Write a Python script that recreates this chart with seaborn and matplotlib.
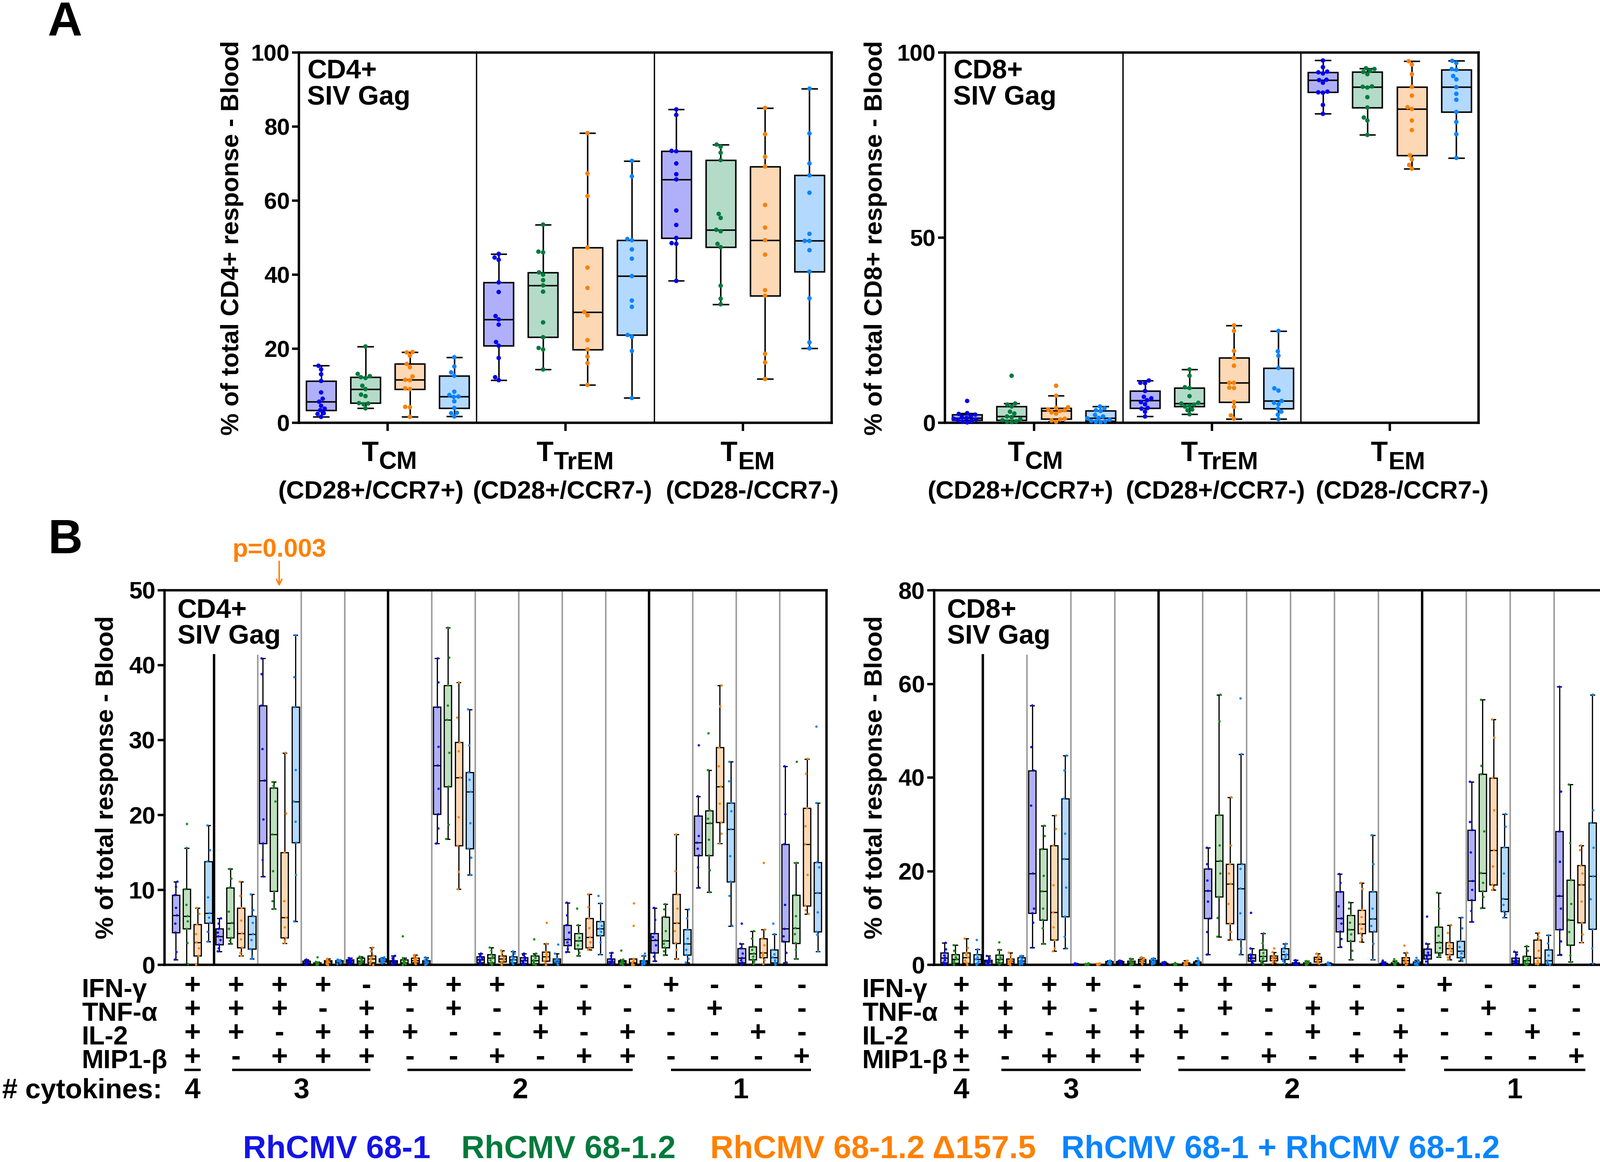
import numpy as np
import pandas as pd
import matplotlib
matplotlib.use("Agg")
import matplotlib.pyplot as plt
import matplotlib.transforms as mtransforms
import seaborn as sns

W, H, DPI = 3715, 2699, 250

groups = ["RhCMV 68-1", "RhCMV 68-1.2", "RhCMV 68-1.2 \u0394157.5", "RhCMV 68-1 + RhCMV 68-1.2"]
subsets = ["TCM", "TTrEM", "TEM"]
subset_subs = ["CM", "TrEM", "EM"]
subset_markers = ["(CD28+/CCR7+)", "(CD28+/CCR7-)", "(CD28-/CCR7-)"]

# cytokine combinations (15), read column by column
ifng = "++++-+++---+---"
tnfa = "+++-+-+-++--+--"
il2 = "++-+++--+-+--+-"
mip1b = "+-+++--+-++---+"
combos = [a + b + c + d for a, b, c, d in zip(ifng, tnfa, il2, mip1b)]
n_cytokines = ["4", "3", "2", "1"]

# ---------------- panel A : memory subsets (13 animals per group) ----------------
cd4_mem_68_1 = [[1.6, 2.4, 2.6, 3.4, 3.8, 4.6, 5.7, 6.5, 8.2, 11.3, 13.1, 14.4, 15.4],
                [11.5, 12.3, 17.5, 20.8, 21.8, 26.5, 27.9, 28.8, 35.3, 37.9, 44.0, 44.6, 45.6],
                [38.3, 48.3, 48.5, 49.9, 53.4, 57.3, 65.7, 67.1, 70.0, 73.3, 73.4, 83.1, 84.6]]
cd4_mem_68_12 = [[3.9, 5.0, 5.2, 5.3, 7.2, 7.6, 9.1, 10.0, 12.1, 12.3, 12.6, 13.2, 20.6],
                 [14.4, 19.8, 20.2, 23.1, 27.1, 35.4, 37.1, 38.5, 40.0, 40.6, 46.0, 46.2, 53.5],
                 [32.0, 33.5, 37.0, 47.4, 48.3, 51.7, 52.1, 55.3, 56.4, 70.9, 72.9, 74.5, 75.1]]
cd4_mem_d157 = [[1.6, 4.2, 4.3, 9.1, 9.3, 11.5, 11.6, 12.5, 15.0, 15.9, 18.1, 19.0, 19.1],
                [10.2, 16.1, 17.9, 19.8, 22.3, 29.0, 29.9, 36.4, 41.9, 47.3, 61.2, 67.3, 78.2],
                [11.8, 16.3, 18.6, 34.3, 35.8, 45.4, 49.3, 52.7, 58.8, 69.2, 71.8, 77.9, 85.0]]
cd4_mem_mix = [[1.7, 2.6, 2.7, 4.0, 5.8, 7.0, 7.1, 7.5, 8.4, 12.7, 13.6, 15.2, 17.7],
               [6.7, 19.4, 23.2, 23.7, 31.3, 33.0, 39.6, 44.3, 46.8, 49.3, 49.6, 66.5, 70.7],
               [20.1, 21.7, 33.6, 40.8, 46.6, 49.1, 49.1, 51.0, 62.1, 66.8, 70.0, 78.1, 90.2]]

cd8_mem_68_1 = [[0.1, 0.3, 0.5, 0.7, 0.9, 1.1, 1.3, 1.5, 1.8, 2.2, 2.4, 2.6, 5.9],
                [1.7, 3.0, 3.8, 4.0, 5.0, 5.6, 6.1, 6.6, 7.0, 8.6, 10.7, 10.8, 11.4],
                [83.4, 85.8, 89.1, 89.2, 89.4, 91.8, 92.5, 92.6, 94.3, 94.6, 94.8, 96.0, 97.8]]
cd8_mem_68_12 = [[0.2, 0.3, 0.4, 0.7, 1.0, 1.5, 1.7, 2.5, 3.0, 4.4, 4.9, 5.2, 12.7],
                 [2.3, 3.4, 3.6, 4.4, 4.6, 4.9, 5.2, 5.4, 7.2, 9.4, 9.6, 12.7, 14.4],
                 [77.7, 81.6, 82.4, 85.1, 87.9, 90.5, 90.7, 90.8, 94.1, 94.7, 95.1, 95.5, 95.7]]
cd8_mem_d157 = [[0.3, 0.6, 0.9, 1.1, 2.5, 2.8, 3.2, 3.4, 3.6, 4.0, 4.2, 7.3, 10.0],
                [1.1, 2.0, 4.3, 5.6, 9.4, 9.5, 10.8, 10.8, 15.4, 17.5, 19.4, 24.8, 26.3],
                [68.6, 69.6, 71.1, 72.2, 79.0, 81.6, 84.7, 85.2, 88.3, 90.7, 94.1, 96.7, 97.6]]
cd8_mem_mix = [[0.2, 0.3, 0.4, 0.5, 0.8, 1.2, 1.3, 1.7, 2.1, 3.2, 3.4, 3.9, 4.4],
               [1.0, 2.2, 3.0, 3.8, 5.0, 5.4, 5.9, 8.7, 9.3, 14.8, 18.1, 19.3, 24.8],
               [71.5, 77.9, 81.2, 83.9, 87.2, 88.8, 90.6, 92.7, 93.6, 95.3, 95.5, 97.1, 97.7]]

# ---------------- panel B : cytokine combinations (15 combos) ----------------
cd4_cyt_68_1 = [[0.7, 1.7, 4.3, 5.5, 6.6, 7.6, 9.3, 10.4, 11.1], [1.8, 2.2, 2.7, 3.3, 3.8, 4.3, 4.8, 5.5, 6.2],
                [11.8, 14.0, 16.2, 19.4, 24.6, 28.8, 34.6, 38.8, 40.9], [0.0, 0.1, 0.2, 0.3, 0.3, 0.4, 0.5, 0.6, 0.7],
                [0.1, 0.2, 0.3, 0.4, 0.5, 0.6, 0.7, 0.8, 0.9], [0.0, 0.1, 0.2, 0.3, 0.4, 0.5, 0.6, 0.9, 1.2],
                [16.2, 18.2, 20.1, 23.5, 26.6, 29.1, 34.4, 37.7, 40.9], [0.1, 0.2, 0.3, 0.5, 0.7, 0.9, 1.1, 1.3, 1.5],
                [0.0, 0.1, 0.2, 0.4, 0.6, 0.8, 1.0, 1.3, 1.5], [1.7, 2.1, 2.6, 3.0, 3.4, 4.3, 5.3, 6.6, 8.3],
                [0.0, 0.1, 0.2, 0.3, 0.4, 0.6, 0.8, 1.2, 1.6], [0.5, 1.1, 1.6, 2.6, 3.3, 3.7, 4.2, 6.0, 7.6],
                [10.3, 13.0, 14.6, 15.5, 16.3, 17.2, 19.9, 22.5, 29.3], [0.0, 0.2, 0.3, 0.6, 0.9, 1.5, 2.2, 2.8, 5.5],
                [0.3, 1.6, 3.1, 3.8, 4.8, 8.0, 16.1, 20.1, 26.5]]
cd4_cyt_68_12 = [[0.1, 2.9, 4.8, 5.8, 6.5, 8.0, 10.1, 15.6, 18.8], [2.8, 3.2, 3.6, 4.8, 5.6, 7.1, 10.3, 11.5, 12.8],
                 [7.5, 8.5, 9.8, 12.5, 17.4, 21.8, 23.6, 23.9, 24.4], [0.0, 0.0, 0.1, 0.1, 0.2, 0.2, 0.3, 0.4, 1.0],
                 [0.1, 0.2, 0.3, 0.4, 0.5, 0.7, 0.9, 1.0, 1.1], [0.0, 0.1, 0.2, 0.2, 0.3, 0.5, 0.7, 0.9, 3.8],
                 [16.8, 18.7, 23.8, 28.3, 32.7, 34.6, 37.3, 41.0, 45.0], [0.0, 0.2, 0.3, 0.6, 0.9, 1.1, 1.4, 1.9, 2.3],
                 [0.0, 0.1, 0.2, 0.4, 0.6, 0.9, 1.2, 1.5, 3.4], [1.2, 1.6, 2.1, 2.6, 3.2, 3.6, 4.2, 5.3, 7.5],
                 [0.0, 0.1, 0.2, 0.3, 0.4, 0.5, 0.6, 0.7, 1.9], [1.3, 1.8, 2.3, 2.8, 3.2, 4.5, 6.4, 7.4, 8.1],
                 [9.7, 12.6, 14.6, 16.7, 18.9, 19.5, 20.6, 26.0, 30.9], [0.1, 0.4, 0.7, 1.1, 1.5, 2.0, 2.4, 3.5, 4.5],
                 [0.8, 2.0, 2.9, 4.1, 4.9, 6.5, 9.3, 13.6, 27.1]]
cd4_cyt_d157 = [[0.0, 0.1, 1.2, 2.2, 3.0, 4.1, 5.4, 6.8, 7.6], [1.2, 1.6, 2.3, 3.4, 4.2, 5.9, 7.6, 9.2, 11.1],
                [2.9, 3.2, 3.6, 5.0, 6.3, 8.5, 15.0, 20.2, 28.3], [0.0, 0.1, 0.2, 0.3, 0.4, 0.5, 0.6, 0.7, 0.8],
                [0.0, 0.1, 0.3, 0.5, 0.8, 1.0, 1.2, 1.8, 2.3], [0.1, 0.2, 0.3, 0.5, 0.6, 0.8, 0.9, 1.1, 1.3],
                [10.1, 12.4, 15.9, 19.7, 25.0, 28.5, 29.7, 33.0, 37.7], [0.0, 0.2, 0.4, 0.6, 0.8, 1.0, 1.2, 1.6, 1.9],
                [0.0, 0.3, 0.5, 0.8, 1.1, 1.4, 1.7, 2.8, 5.6], [2.0, 2.1, 2.3, 3.0, 3.7, 4.9, 6.2, 7.7, 9.4],
                [0.0, 0.0, 0.1, 0.2, 0.3, 0.5, 0.8, 5.2, 8.2], [0.8, 2.0, 2.9, 4.5, 5.6, 7.5, 9.4, 12.5, 17.4],
                [16.2, 17.5, 19.0, 21.5, 23.8, 26.5, 29.0, 34.5, 37.3], [0.1, 0.6, 1.0, 1.3, 1.6, 2.6, 3.5, 4.7, 13.6],
                [6.8, 7.3, 7.9, 12.0, 16.1, 18.5, 20.9, 25.5, 27.5]]
cd4_cyt_mix = [[3.1, 4.4, 5.6, 6.3, 6.9, 9.0, 13.8, 15.3, 18.6], [0.8, 1.1, 2.1, 3.3, 4.1, 5.6, 6.5, 7.3, 9.4],
               [5.8, 12.0, 16.3, 19.1, 21.8, 26.0, 34.4, 38.4, 44.0], [0.1, 0.2, 0.3, 0.4, 0.5, 0.5, 0.6, 0.6, 0.7],
               [0.2, 0.3, 0.4, 0.5, 0.6, 0.7, 0.8, 0.9, 1.0], [0.0, 0.1, 0.2, 0.3, 0.4, 0.5, 0.6, 0.8, 1.0],
               [12.0, 14.3, 15.5, 18.9, 23.1, 24.7, 25.7, 29.3, 34.1], [0.1, 0.2, 0.3, 0.5, 0.7, 0.8, 1.1, 1.5, 1.8],
               [0.0, 0.1, 0.3, 0.4, 0.5, 0.6, 0.8, 1.5, 2.7], [1.4, 3.0, 3.9, 4.4, 4.8, 5.2, 5.8, 8.2, 9.2],
               [0.0, 0.1, 0.2, 0.3, 0.4, 0.5, 0.6, 1.2, 1.5], [0.3, 0.8, 1.3, 2.0, 2.8, 3.5, 4.7, 6.2, 7.4],
               [5.2, 9.2, 11.1, 14.5, 18.1, 20.5, 21.6, 24.5, 27.1], [0.0, 0.2, 0.3, 0.6, 1.0, 1.4, 2.0, 4.1, 5.5],
               [1.8, 4.0, 4.4, 7.0, 9.6, 13.0, 13.7, 21.6, 31.8]]

cd8_cyt_68_1 = [[0.0, 0.3, 0.5, 1.0, 1.5, 2.0, 2.6, 3.3, 4.7], [0.0, 0.1, 0.2, 0.4, 0.6, 0.8, 1.0, 1.4, 1.9],
                [3.7, 9.0, 11.0, 12.0, 19.5, 34.0, 41.5, 46.5, 55.4], [0.0, 0.0, 0.0, 0.1, 0.1, 0.1, 0.2, 0.2, 0.3],
                [0.1, 0.2, 0.3, 0.4, 0.5, 0.6, 0.7, 0.8, 0.9], [0.0, 0.1, 0.2, 0.2, 0.3, 0.3, 0.4, 0.5, 0.6],
                [2.2, 7.0, 9.9, 13.5, 15.8, 18.0, 20.5, 21.5, 25.0], [0.2, 0.5, 0.8, 1.2, 1.5, 1.8, 2.2, 3.5, 11.1],
                [0.0, 0.1, 0.1, 0.2, 0.3, 0.4, 0.5, 0.7, 1.0], [3.8, 5.5, 7.1, 8.8, 9.9, 12.5, 15.6, 17.5, 19.4],
                [0.0, 0.0, 0.1, 0.1, 0.2, 0.3, 0.4, 0.6, 0.9], [0.0, 0.7, 1.3, 1.8, 2.1, 2.6, 3.4, 4.5, 10.3],
                [9.2, 11.5, 13.8, 16.0, 17.9, 24.0, 28.8, 30.5, 39.1], [0.0, 0.2, 0.4, 0.6, 0.8, 1.1, 1.5, 2.2, 2.8],
                [2.1, 5.0, 7.5, 12.0, 14.7, 22.0, 28.5, 37.0, 59.4]]
cd8_cyt_68_12 = [[0.0, 0.2, 0.4, 0.8, 1.2, 1.6, 2.2, 3.0, 4.2], [0.1, 0.3, 0.5, 0.9, 1.2, 1.6, 2.1, 3.2, 4.8],
                 [4.5, 7.8, 9.6, 12.0, 15.7, 19.0, 24.7, 27.5, 29.7], [0.0, 0.0, 0.1, 0.1, 0.1, 0.2, 0.2, 0.3, 0.3],
                 [0.0, 0.1, 0.2, 0.3, 0.5, 0.6, 0.8, 1.0, 1.3], [0.0, 0.0, 0.1, 0.1, 0.1, 0.2, 0.2, 0.3, 0.4],
                 [6.0, 10.0, 14.5, 19.5, 22.2, 25.5, 32.0, 52.0, 57.7], [0.1, 0.5, 0.8, 1.3, 1.8, 2.5, 3.2, 4.6, 6.7],
                 [0.0, 0.1, 0.1, 0.2, 0.3, 0.4, 0.5, 0.6, 0.8], [1.1, 3.0, 5.1, 6.5, 7.5, 9.0, 10.6, 12.0, 13.3],
                 [0.0, 0.1, 0.1, 0.2, 0.3, 0.4, 0.5, 0.8, 1.2], [1.7, 2.1, 2.6, 3.6, 4.8, 6.2, 8.1, 12.0, 15.4],
                 [12.1, 14.5, 15.7, 17.5, 19.6, 28.5, 40.7, 42.5, 56.6], [0.0, 0.2, 0.3, 0.6, 0.9, 1.3, 1.8, 3.0, 4.0],
                 [0.6, 2.0, 4.2, 7.0, 9.6, 13.0, 18.1, 26.0, 38.5]]
cd8_cyt_d157 = [[0.0, 0.3, 0.4, 0.9, 1.6, 2.1, 2.6, 3.6, 5.6], [0.0, 0.2, 0.4, 0.6, 0.8, 1.0, 1.3, 2.0, 2.6],
                [2.9, 3.5, 5.3, 8.0, 11.2, 17.0, 25.5, 29.0, 31.9], [0.0, 0.0, 0.0, 0.1, 0.1, 0.1, 0.2, 0.2, 0.3],
                [0.1, 0.2, 0.4, 0.6, 0.8, 1.0, 1.2, 1.4, 1.6], [0.0, 0.1, 0.1, 0.2, 0.3, 0.4, 0.5, 0.7, 0.9],
                [5.3, 7.0, 8.8, 13.0, 17.3, 19.5, 21.5, 25.5, 35.8], [0.3, 0.6, 0.9, 1.2, 1.5, 1.7, 1.9, 2.7, 3.5],
                [0.2, 0.4, 0.6, 0.9, 1.2, 1.5, 1.7, 2.0, 2.4], [4.9, 5.8, 6.7, 7.7, 8.7, 10.2, 11.7, 16.2, 17.5],
                [0.0, 0.2, 0.4, 0.6, 0.9, 1.2, 1.6, 2.6, 4.1], [1.1, 1.6, 2.2, 2.9, 3.5, 4.1, 4.8, 6.8, 8.5],
                [16.0, 16.5, 17.1, 21.0, 24.5, 33.0, 39.9, 48.5, 52.4], [0.1, 0.2, 0.3, 0.8, 1.5, 3.0, 5.3, 6.0, 6.8],
                [4.8, 6.5, 9.0, 13.5, 17.1, 19.5, 21.2, 24.5, 25.5]]
cd8_cyt_mix = [[0.0, 0.2, 0.3, 0.7, 1.2, 1.6, 2.2, 3.3, 5.3], [0.1, 0.2, 0.4, 0.6, 0.8, 1.1, 1.6, 1.8, 1.9],
               [3.5, 6.0, 10.3, 16.5, 22.6, 28.0, 35.5, 41.5, 44.7], [0.1, 0.2, 0.3, 0.4, 0.5, 0.6, 0.7, 0.8, 0.9],
               [0.1, 0.2, 0.3, 0.5, 0.6, 0.8, 1.0, 1.2, 1.4], [0.0, 0.1, 0.2, 0.3, 0.4, 0.5, 0.6, 0.9, 1.4],
               [2.2, 3.5, 5.4, 11.0, 16.3, 20.5, 21.5, 45.0, 56.9], [0.3, 0.8, 1.2, 1.7, 2.2, 2.8, 3.5, 4.0, 4.5],
               [0.0, 0.0, 0.1, 0.1, 0.2, 0.2, 0.3, 0.4, 0.5], [1.1, 4.5, 7.1, 8.3, 9.8, 12.0, 15.6, 21.5, 27.7],
               [0.0, 0.1, 0.1, 0.2, 0.3, 0.4, 0.6, 1.0, 1.5], [0.8, 1.2, 1.6, 2.4, 2.9, 3.8, 5.1, 7.8, 10.1],
               [10.1, 10.8, 11.4, 12.8, 14.1, 19.5, 25.1, 29.5, 32.2], [0.0, 0.1, 0.2, 0.5, 0.9, 2.0, 3.2, 4.6, 6.3],
               [0.3, 3.5, 7.6, 14.0, 18.9, 25.0, 30.3, 33.0, 57.7]]

# colours
fill_cols = ["#B0B0FA", "#B3DBC8", "#FDD8B5", "#B3D9FF"]
fill_cols_b = ["#B0B0FA", "#BEE0BE", "#FDD8B5", "#B3D9FF"]
dot_cols = ["#0000F0", "#007A3D", "#F7820A", "#0A84FF"]
dot_cols_b = ["#0000F0", "#158A15", "#F7820A", "#0A84FF"]
legend_cols = ["#1414E6", "#007A3D", "#FF8000", "#0A84FF"]
ORANGE = "#FF8000"

plt.rcParams["font.family"] = ["Liberation Sans", "DejaVu Sans"]
plt.rcParams["font.weight"] = "bold"

fig = plt.figure(figsize=(W / DPI, H / DPI), dpi=DPI)


def fx(px):
    return px / W


def fy(py):
    return 1 - py / H


def add_panel(left, right, top, bottom):
    return fig.add_axes([fx(left), fy(bottom), (right - left) / W, (bottom - top) / H])


def long_frame(arrays, cats):
    rows = []
    for g, arr in zip(groups, arrays):
        for c, vals in zip(cats, arr):
            for v in vals:
                rows.append((c, g, f"{c}|{g}", v))
    return pd.DataFrame(rows, columns=["cat", "group", "slot", "value"])


def draw_panel(ax, arrays, cats, fills, dots, box_w, box_lw, dot_size, swarm):
    frame = long_frame(arrays, cats)
    order = [f"{c}|{g}" for c in cats for g in groups]
    sns.boxplot(data=frame, x="slot", y="value", hue="group", order=order,
                hue_order=groups, palette=dict(zip(groups, fills)), dodge=False,
                width=box_w, saturation=1, linecolor="black", linewidth=box_lw,
                showfliers=False, legend=False, ax=ax)
    kw = dict(data=frame, x="slot", y="value", hue="group", order=order,
              hue_order=groups, palette=dict(zip(groups, dots)), dodge=False,
              size=dot_size, legend=False, ax=ax, zorder=3, clip_on=False)
    if swarm:
        sns.swarmplot(**kw)
    else:
        sns.stripplot(jitter=0.16, **kw)
    ax.set_xlabel("")
    ax.set_ylabel("")


def style_axes(ax, ymax, yticks, tick_size):
    ax.set_ylim(0, ymax)
    ax.set_yticks(yticks)
    for s in ax.spines.values():
        s.set_visible(True)
        s.set_linewidth(1.6)
        s.set_color("black")
    ax.tick_params(axis="both", direction="out", length=4.6, width=1.6,
                   labelsize=tick_size, pad=1.5, colors="black")


# ================= PANEL A =================
axA1 = add_panel(694, 1931, 121.5, 982)
axA2 = add_panel(2194, 3433, 121.5, 982)
for ax, arrs, title in [(axA1, [cd4_mem_68_1, cd4_mem_68_12, cd4_mem_d157, cd4_mem_mix], "CD4+"),
                        (axA2, [cd8_mem_68_1, cd8_mem_68_12, cd8_mem_d157, cd8_mem_mix], "CD8+")]:
    draw_panel(ax, arrs, subsets, fill_cols, dot_cols, 0.67, 1.0, 3.0, True)
    style_axes(ax, 100, [0, 20, 40, 60, 80, 100] if title == "CD4+" else [0, 50, 100], 15.5)
    ax.set_xlim(-0.5, 11.5)
    ax.set_xticks([1.5, 5.5, 9.5])
    ax.set_xticklabels([])
    ax.tick_params(axis="x", length=5.5)
    for xb in (3.5, 7.5):
        ax.axvline(xb, color="black", lw=0.9, zorder=0.5)
    ax.text(0.0154, 0.982, title + "\nSIV Gag", transform=ax.transAxes, fontsize=18,
            va="top", ha="left", linespacing=1.02)

fig.text(fx(539), fy(553), "% of total CD4+ response - Blood", rotation=90,
         ha="center", va="center", fontsize=16.7)
fig.text(fx(2033), fy(553), "% of total CD8+ response - Blood", rotation=90,
         ha="center", va="center", fontsize=16.7)

renderer = fig.canvas.get_renderer()


def t_label(cx, base, sub):
    t1 = fig.text(0, fy(base), "T", fontsize=18.5, ha="left", va="baseline")
    t2 = fig.text(0, fy(base + 19), sub, fontsize=16.5, ha="left", va="baseline")
    w1 = t1.get_window_extent(renderer).width
    w2 = t2.get_window_extent(renderer).width
    left = cx - (w1 + w2) / 2
    t1.set_x(fx(left))
    t2.set_x(fx(left + w1 + 1))


for tx, px, sub, marker in zip([903, 1335, 1735], [861, 1306, 1746], subset_subs, subset_markers):
    t_label(tx, 1071, sub)
    fig.text(fx(px), fy(1158), marker, fontsize=16.8, ha="center", va="baseline")
for tx, px, sub, marker in zip([2403, 2831, 3245], [2369, 2822, 3255], subset_subs, subset_markers):
    t_label(tx, 1071, sub)
    fig.text(fx(px), fy(1158), marker, fontsize=16.8, ha="center", va="baseline")

# ================= PANEL B =================
axB1 = add_panel(381.7, 1918.6, 1371, 2241)
axB2 = add_panel(2168.5, 3720, 1371, 2241)
black_lines = [3.5, 19.5, 43.5]
for ax, arrs, title, ymax, yt, xl in [
        (axB1, [cd4_cyt_68_1, cd4_cyt_68_12, cd4_cyt_d157, cd4_cyt_mix], "CD4+", 50,
         [0, 10, 20, 30, 40, 50], (-1.048, 59.78)),
        (axB2, [cd8_cyt_68_1, cd8_cyt_68_12, cd8_cyt_d157, cd8_cyt_mix], "CD8+", 80,
         [0, 20, 40, 60, 80], (-0.952, 59.89))]:
    draw_panel(ax, arrs, combos, fill_cols_b, dot_cols_b, 0.68, 0.8, 1.6, False)
    style_axes(ax, ymax, yt, 16)
    ax.set_xlim(*xl)
    ax.set_xticks([])
    for k in range(14):
        xb = 4 * k + 3.5
        top = 0.826 if k in (0, 1) else 1.0
        if xb in black_lines:
            ax.axvline(xb, ymax=top, color="black", lw=1.6, zorder=0.5)
        else:
            ax.axvline(xb, ymax=top, color="#999999", lw=1.0, zorder=0.5)
    ax.text(0.0195, 0.979, title + "\nSIV Gag", transform=ax.transAxes, fontsize=18,
            va="top", ha="left", linespacing=1.02)

fig.text(fx(248), fy(1806), "% of total response - Blood", rotation=90,
         ha="center", va="center", fontsize=16.7)
fig.text(fx(2033), fy(1806), "% of total response - Blood", rotation=90,
         ha="center", va="center", fontsize=16.7)

# p-value over CD4+ ++-+ combination
transB1 = mtransforms.blended_transform_factory(axB1.transData, fig.transFigure)
axB1.annotate("", xy=(9.5, fy(1362)), xycoords=transB1, xytext=(9.5, fy(1304)),
              textcoords=transB1, annotation_clip=False,
              arrowprops=dict(arrowstyle="->", color=ORANGE, lw=1.0, shrinkA=0,
                              shrinkB=0, mutation_scale=9))
axB1.text(9.5, fy(1293), "p=0.003", transform=transB1, color=ORANGE, fontsize=17,
          ha="center", va="baseline")

# cytokine table: one text per column so the rows stack cleanly
row_names = ["IFN-\u03b3", "TNF-\u03b1", "IL-2", "MIP1-\u03b2"]
row_signs = [ifng, tnfa, il2, mip1b]
group_spans = [(-0.18, 0.2), (0.92, 4.1), (4.95, 10.12), (11.0, 14.22)]
for ax, lab_x in [(axB1, 190), (axB2, 2002)]:
    trans = mtransforms.blended_transform_factory(ax.transData, fig.transFigure)
    fig.text(fx(lab_x), fy(2272), "\n".join(row_names), fontsize=17.5, ha="left",
             va="top", linespacing=0.951)
    for k in range(len(combos)):
        column = "\n".join(signs[k] for signs in row_signs)
        ax.text(4 * k + 1.5, fy(2260), column, transform=trans, fontsize=19,
                ha="center", va="top", linespacing=0.859)
    for (a, b), n in zip(group_spans, n_cytokines):
        ax.plot([4 * a + 1.5, 4 * b + 1.5], [fy(2484.5)] * 2, transform=trans,
                color="black", lw=1.6, clip_on=False, solid_capstyle="butt")
        ax.text(4 * (a + b) / 2 + 1.5, fy(2534), n, transform=trans, fontsize=19,
                ha="center", va="center")

fig.text(fx(5), fy(2534), "# cytokines:", fontsize=18.5, ha="left", va="center")

# panel letters
fig.text(fx(110), fy(83), "A", fontsize=32, ha="left", va="baseline")
fig.text(fx(112), fy(1285), "B", fontsize=32, ha="left", va="baseline")

# colour legend
for g, c, lx in zip(groups, legend_cols, [564, 1071, 1649, 2464]):
    fig.text(fx(lx), fy(2670), g, color=c, fontsize=21.5, ha="left", va="center")

fig.savefig("out.png", dpi=DPI)
